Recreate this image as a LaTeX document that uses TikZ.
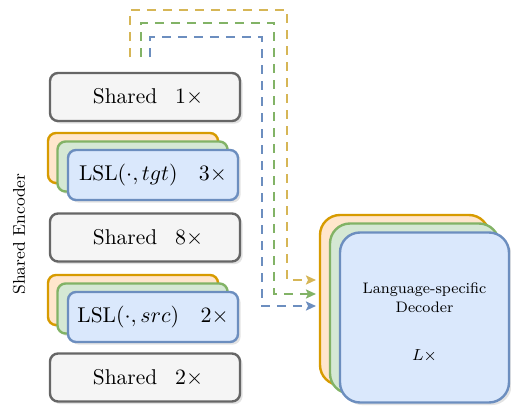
\documentclass[tikz,border=0pt]{standalone}
\usepackage{amssymb}
\usepackage{amsmath}
\usepackage{xcolor}
\usepackage{tikz}
\usetikzlibrary{arrows.meta}
\usetikzlibrary{shadows}

\definecolor{grisFond}{HTML}{F5F5F5}
\definecolor{grisTrait}{HTML}{666666}
\definecolor{orFond}{HTML}{FFE6CC}
\definecolor{orTrait}{HTML}{D79B00}
\definecolor{vertFond}{HTML}{D5E8D4}
\definecolor{vertTrait}{HTML}{82B366}
\definecolor{bleuFond}{HTML}{DAE8FC}
\definecolor{bleuTrait}{HTML}{6C8EBF}
\definecolor{jaune}{HTML}{D6B656}

\begin{document}
\begin{tikzpicture}[x=0.5pt, y=-0.5pt,
    bloc/.style={rounded corners=4pt, line width=1.2pt,
        drop shadow={shadow xshift=1.3pt, shadow yshift=-1.3pt, fill=black!22},
        font=\fontsize{10.7}{12}\selectfont},
    partage/.style={bloc, draw=grisTrait, fill=grisFond,
        minimum width=95pt, minimum height=24pt},
    couche/.style={bloc, minimum width=85pt, minimum height=25pt},
    decodeur/.style={bloc, rounded corners=10pt, minimum width=84.5pt,
        minimum height=85pt, font=\fontsize{7.6}{9.5}\selectfont, align=center},
    fleche/.style={line width=1pt, dash pattern=on 4.5pt off 3.5pt,
        -{Stealth[length=5pt, width=4.5pt, inset=1pt]}}]
    \useasboundingbox (0,0) rectangle (511,408);

    % Encodeur : couches partagées et couches propres à la langue
    \node[partage] (sh1) at (145,97) {\hspace{3pt}Shared\hspace{9pt}$1\times$};

    \node[couche, draw=orTrait, fill=orFond] (tgtO) at (133,158) {};
    \node[couche, draw=vertTrait, fill=vertFond] (tgtV) at (142.5,166.5) {};
    \node[couche, draw=bleuTrait, fill=bleuFond] (tgtB) at (153,175) {LSL$(\cdot, tgt)$\quad $3\times$};

    \node[partage] (sh8) at (145,237.5) {\hspace{3pt}Shared\hspace{9pt}$8\times$};

    \node[couche, draw=orTrait, fill=orFond] (srcO) at (133,300) {};
    \node[couche, draw=vertTrait, fill=vertFond] (srcV) at (142.5,308.5) {};
    \node[couche, draw=bleuTrait, fill=bleuFond] (srcB) at (153,317) {LSL$(\cdot, src)$\quad $2\times$};

    \node[partage] (sh2) at (145,377.5) {\hspace{3pt}Shared\hspace{9pt}$2\times$};

    \node[rotate=90, font=\fontsize{8.5}{10}\selectfont] (enc) at (19,234) {Shared Encoder};

    % Décodeurs (un par langue)
    \node[decodeur, draw=orTrait, fill=orFond] (decO) at (404.5,300) {};
    \node[decodeur, draw=vertTrait, fill=vertFond] (decV) at (414.5,308.5) {};
    \node[decodeur, draw=bleuTrait, fill=bleuFond] (decB) at (424.5,317.5)
        {\rule{0pt}{10pt}Language-specific\\Decoder\\[14.5pt]$L\times$};

    % Liaisons encodeur -> décodeur
    \coordinate (debJ) at (130,57);
    \coordinate (debV) at (141,57);
    \coordinate (debB) at (150,57);
    \coordinate (finJ) at (316,280);
    \coordinate (finV) at (316,294);
    \coordinate (finB) at (316,306);
    \draw[fleche, jaune] (debJ) |- (287,10) |- (finJ);
    \draw[fleche, vertTrait] (debV) |- (274,23) |- (finV);
    \draw[fleche, bleuTrait] (debB) |- (262,37) |- (finB);
\end{tikzpicture}
\end{document}
